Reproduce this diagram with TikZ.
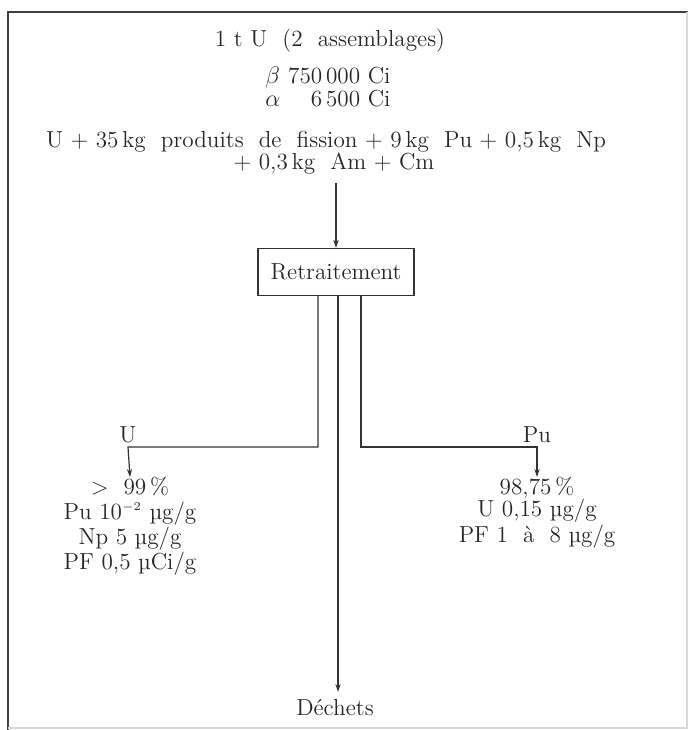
\documentclass[tikz,border=0pt]{standalone}
\usepackage{fontspec}
\usetikzlibrary{arrows.meta}
\begin{document}
\begin{tikzpicture}[x=0.5pt,y=-0.5pt,
	txt/.style={align=center,inner sep=0pt,text=black!85,font=\fontsize{11.6}{11}\selectfont},
	flow/.style={draw=black!80,semithick},
	tip/.style={-{Stealth[length=4pt,width=2.6pt]}}]
	\useasboundingbox (0,0) rectangle (688,730);
	% cadre
	\draw[black!75,line width=1pt] (8,730) -- (8,12) -- (688,12);
	\draw[black!15,line width=0.6pt] (687,12) -- (687,728) -- (8,728);
	\begin{scope}[every node/.style={txt}]
	\node (head) at (330,41) {1 t U\ \ (2\ \ assemblages)};
	\node (activ) at (328,90) {\begin{tabular}{@{}l@{\ }r@{}}$\beta$ & 750\,000 Ci\\ $\alpha$ & 6\,500 Ci\end{tabular}};
	\node (charge) at (326,153) {U\ +\ 35\,kg\ \ produits\ \ de\ \ fission\ +\ 9\,kg\ \ Pu\ +\ 0,5\,kg\ \ Np\\
		\hspace{8pt}+\ 0,3\,kg\ \ Am\ +\ Cm};
	\node[draw=black!80,semithick,minimum width=78pt,minimum height=23.5pt] (box) at (336,272) {Retraitement};
	\node (ulab) at (128,435) {U};
	\node (pulab) at (537,435) {Pu};
	\node[anchor=north] (uout) at (130,477) {>\ \ 99\,\%\\[1.2pt] Pu 10$^{\scriptscriptstyle -2}$ µg/g\\ Np 5 µg/g\\ PF 0,5 µCi/g};
	\node[anchor=north] (puout) at (537,477) {98,75\,\%\\ U 0,15 µg/g\\ PF 1\ \ à\ \ 8 µg/g};
	\node (dechets) at (335,708) {Déchets};
	\end{scope}
	\coordinate (uk) at (128,447);
	\coordinate (puk) at (537,447);
	\coordinate (dk) at (338,692);
	\draw[flow,tip] (charge.south -| box.north) ++(0,8) -- (box.north);
	\draw[flow,tip] (box.south -| 318,0) |- (uk) -- (uout.north);
	\draw[flow,tip] (box.south -| 361,0) |- (puk) -- (puout.north);
	\draw[flow,tip] (box.south -| 338,0) -- (dk);
\end{tikzpicture}
\end{document}
